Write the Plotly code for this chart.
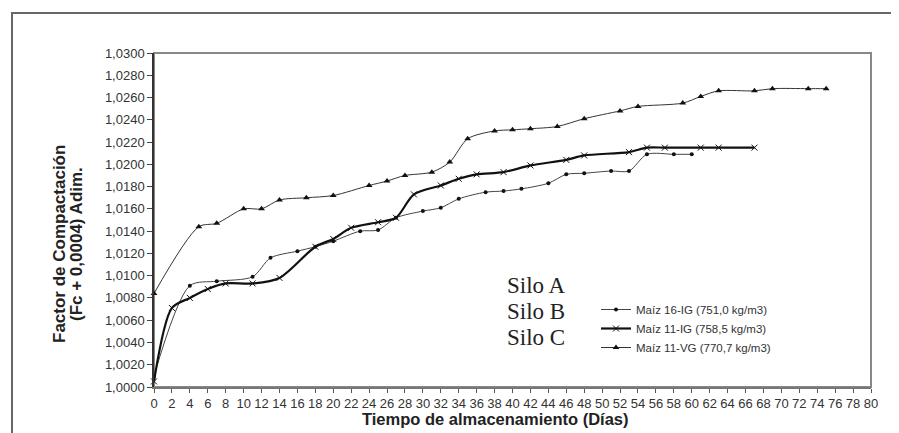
import plotly.graph_objects as go

days_A = [0, 4, 7, 11, 13, 16, 18, 20, 23, 25, 27, 30, 32, 34, 37, 39, 41, 44, 46, 48, 51, 53, 55, 58, 60]
vals_A = [1.0010, 1.0091, 1.0095, 1.0099, 1.0116, 1.0122, 1.0126, 1.0131, 1.0140, 1.0141, 1.0152, 1.0158,
          1.0161, 1.0169, 1.0175, 1.0176, 1.0178, 1.0183, 1.0191, 1.0192, 1.0194, 1.0194, 1.0209, 1.0209, 1.0209]

days_B = [0, 2, 4, 6, 8, 11, 14, 18, 20, 22, 25, 27, 29, 32, 34, 36, 39, 42, 46, 48, 53, 55, 57, 61, 63, 67]
vals_B = [1.0005, 1.0071, 1.0080, 1.0088, 1.0093, 1.0093, 1.0098, 1.0126, 1.0133, 1.0143, 1.0148, 1.0152,
          1.0173, 1.0181, 1.0187, 1.0191, 1.0193, 1.0199, 1.0204, 1.0208, 1.0211, 1.0215, 1.0215, 1.0215,
          1.0215, 1.0215]

days_C = [0, 5, 7, 10, 12, 14, 17, 20, 24, 26, 28, 31, 33, 35, 38, 40, 42, 45, 48, 52, 54, 59, 61, 63,
          67, 69, 73, 75]
vals_C = [1.0084, 1.0144, 1.0147, 1.0160, 1.0160, 1.0168, 1.0170, 1.0172, 1.0181, 1.0185, 1.0190, 1.0193,
          1.0202, 1.0223, 1.0230, 1.0231, 1.0232, 1.0234, 1.0241, 1.0248, 1.0252, 1.0255, 1.0261, 1.0266,
          1.0266, 1.0268, 1.0268, 1.0268]

names = ["Maíz 16-IG (751,0 kg/m3)", "Maíz 11-IG (758,5 kg/m3)", "Maíz 11-VG (770,7 kg/m3)"]
silos = ["Silo A", "Silo B", "Silo C"]
y_title_lines = ["Factor de Compactación", "(Fc + 0,0004) Adim."]
x_title = "Tiempo de almacenamiento (Días)"
x_ticks = list(range(0, 81, 2))

fig = go.Figure()
fig.add_trace(go.Scatter(
    x=days_A, y=vals_A, name=names[0], mode="lines+markers",
    line=dict(color="#444", width=1, shape="spline", smoothing=0.8),
    marker=dict(symbol="circle", size=4, color="#111"), cliponaxis=False))
fig.add_trace(go.Scatter(
    x=days_B, y=vals_B, name=names[1], mode="lines+markers",
    line=dict(color="#111", width=2.2, shape="spline", smoothing=0.8),
    marker=dict(symbol="x-thin-open", size=6, line=dict(width=1, color="#555")), cliponaxis=False))
fig.add_trace(go.Scatter(
    x=days_C, y=vals_C, name=names[2], mode="lines+markers",
    line=dict(color="#333", width=1, shape="spline", smoothing=0.8),
    marker=dict(symbol="triangle-up", size=6, color="#111"), cliponaxis=False))

L, R, T, B = 146, 36, 45, 54
W, H = 899, 433
pw, ph = W - L - R, H - T - B

def px(xp):
    return (xp - L) / pw

def py(yp):
    return (H - B - yp) / ph

annotations = []
for i, line in enumerate(y_title_lines):
    annotations.append(dict(text="<b>" + line + "</b>", xref="paper", yref="paper",
                            x=px(51 + 17 * i), y=py(236), textangle=-90, showarrow=False,
                            font=dict(family="Liberation Sans, Arial", size=17, color="#222"),
                            xanchor="center", yanchor="middle"))
annotations.append(dict(text="<b>" + x_title + "</b>", xref="paper", yref="paper",
                        x=px(487), y=py(411), showarrow=False,
                        font=dict(family="Liberation Sans, Arial", size=16.5, color="#222"),
                        xanchor="center", yanchor="middle"))
for i, s in enumerate(silos):
    annotations.append(dict(text=s, xref="paper", yref="paper", x=px(497), y=py(277 + 26 * i),
                            showarrow=False, xanchor="left", yanchor="middle",
                            font=dict(family="Liberation Serif, Times New Roman", size=23, color="#222")))

fig.update_layout(
    width=W, height=H,
    margin=dict(l=L, r=R, t=T, b=B),
    paper_bgcolor="white", plot_bgcolor="white",
    separators=",.",
    font=dict(family="Liberation Sans, Arial", size=12, color="#333"),
    showlegend=True,
    legend=dict(x=px(588), y=py(287), xanchor="left", yanchor="top", bgcolor="rgba(0,0,0,0)",
                font=dict(size=11.5, color="#333"), itemwidth=30, tracegroupgap=0),
    annotations=annotations,
    shapes=[
        dict(type="rect", xref="paper", yref="paper", x0=0, x1=1, y0=0, y1=1,
             line=dict(color="#888", width=2), layer="below"),
        dict(type="rect", xref="paper", yref="paper", x0=px(4), x1=px(960), y0=py(480), y1=py(5),
             line=dict(color="#666", width=2), layer="below"),
    ],
)
fig.update_xaxes(range=[0, 80], tickmode="array", tickvals=x_ticks, ticktext=[str(v) for v in x_ticks],
                 showgrid=False, zeroline=False, showline=True, linecolor="#777", linewidth=1.5,
                 ticks="outside", ticklen=4, tickcolor="#555", tickfont=dict(size=13, color="#333"))
fig.update_yaxes(range=[1.0, 1.03], dtick=0.002, tickformat=".4f", showgrid=False, zeroline=False,
                 showline=True, linecolor="#333", linewidth=1.5, ticks="outside", ticklen=5,
                 tickcolor="#444", tickfont=dict(size=13, color="#333"))

fig.write_html("out.html")
